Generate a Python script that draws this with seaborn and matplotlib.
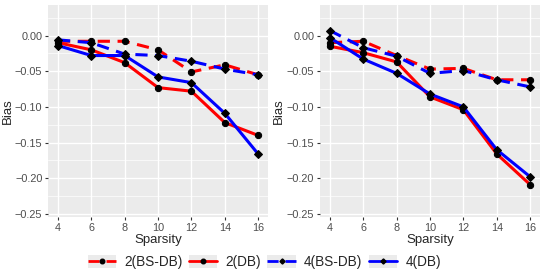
import numpy as np
import pandas as pd
import matplotlib
matplotlib.use("Agg")
import matplotlib.pyplot as plt
import seaborn as sns
from matplotlib.lines import Line2D
from matplotlib.patches import Rectangle
from matplotlib.legend_handler import HandlerTuple
from matplotlib.ticker import MultipleLocator

# ── data ──────────────────────────────────────────────────────────────────────
sparsity = [4, 6, 8, 10, 12, 14, 16]
series_names = ["2(BS-DB)", "2(DB)", "4(BS-DB)", "4(DB)"]

left_bs2 = [-0.008, -0.008, -0.008, -0.020, -0.051, -0.041, -0.055]
left_db2 = [-0.010, -0.020, -0.038, -0.073, -0.078, -0.122, -0.140]
left_bs4 = [-0.006, -0.010, -0.026, -0.028, -0.036, -0.047, -0.055]
left_db4 = [-0.014, -0.028, -0.028, -0.058, -0.066, -0.109, -0.166]

right_bs2 = [-0.010, -0.008, -0.028, -0.047, -0.046, -0.062, -0.062]
right_db2 = [-0.015, -0.024, -0.037, -0.086, -0.104, -0.166, -0.209]
right_bs4 = [0.007, -0.017, -0.029, -0.053, -0.049, -0.062, -0.072]
right_db4 = [-0.003, -0.033, -0.053, -0.082, -0.100, -0.160, -0.198]

styles = {
    "2(BS-DB)": dict(color="#FF0000", ls=(0, (4, 2.5)), marker="o", ms=4.5),
    "2(DB)":    dict(color="#FF0000", ls="-",           marker="o", ms=4.5),
    "4(BS-DB)": dict(color="#0000FF", ls=(0, (4, 2.5)), marker="D", ms=3.8),
    "4(DB)":    dict(color="#0000FF", ls="-",           marker="D", ms=3.8),
}

sns.set_theme(style="darkgrid", rc={
    "axes.facecolor": "#EBEBEB",
    "grid.color": "white",
    "axes.edgecolor": "#EBEBEB",
})
plt.rcParams["font.family"] = ["Liberation Sans", "DejaVu Sans"]

fig = plt.figure(figsize=(5.45, 2.73), dpi=100)
ax_l = fig.add_axes([0.088, 0.205, 0.404, 0.777])
ax_r = fig.add_axes([0.587, 0.205, 0.404, 0.777])


def draw_panel(ax, values):
    for name, vals in zip(series_names, values):
        st = styles[name]
        df = pd.DataFrame({"Sparsity": sparsity, "Bias": vals})
        sns.lineplot(data=df, x="Sparsity", y="Bias", ax=ax, color=st["color"],
                     linestyle=st["ls"], linewidth=2.2, marker=st["marker"],
                     markersize=st["ms"], markerfacecolor="black",
                     markeredgecolor="black", legend=False)
    ax.set_xlim(3.4, 16.6)
    ax.set_ylim(-0.2545, 0.043)
    ax.set_xticks(sparsity)
    ax.set_yticks([0.0, -0.05, -0.10, -0.15, -0.20, -0.25])
    ax.set_yticklabels(["0.00", "\u22120.05", "\u22120.10", "\u22120.15",
                        "\u22120.20", "\u22120.25"])
    ax.yaxis.set_minor_locator(MultipleLocator(0.025))
    ax.xaxis.set_minor_locator(MultipleLocator(1))
    ax.grid(which="major", color="white", linewidth=1.0)
    ax.grid(which="minor", axis="y", color="white", linewidth=0.5)
    ax.grid(which="minor", axis="x", visible=False)
    ax.tick_params(axis="both", which="major", length=2.5, width=0.8,
                   color="#333333", labelsize=7.8, labelcolor="#4D4D4D", pad=1.5,
                   bottom=True, left=True)
    ax.tick_params(which="minor", length=0)
    ax.set_xlabel("Sparsity", fontsize=9.5, labelpad=1)
    ax.set_ylabel("Bias", fontsize=9.5, labelpad=1)
    for sp in ax.spines.values():
        sp.set_visible(False)


draw_panel(ax_l, [left_bs2, left_db2, left_bs4, left_db4])
draw_panel(ax_r, [right_bs2, right_db2, right_bs4, right_db4])

handles = []
for name in series_names:
    st = styles[name]
    bg = Rectangle((0, 0), 1, 1, facecolor="#EBEBEB", edgecolor="none")
    ln = Line2D([], [], color=st["color"], linestyle=st["ls"], linewidth=2.0,
                marker=st["marker"], markersize=st["ms"] - 1.2,
                markerfacecolor="black", markeredgecolor="black")
    handles.append((bg, ln))

fig.legend(handles, series_names, loc="center", bbox_to_anchor=(0.485, 0.04),
           ncol=4, frameon=False, fontsize=9.8, handlelength=2.1,
           handleheight=1.0, handletextpad=0.6, columnspacing=0.45,
           handler_map={tuple: HandlerTuple(ndivide=1, pad=0)})

fig.savefig("out.png", dpi=100)
